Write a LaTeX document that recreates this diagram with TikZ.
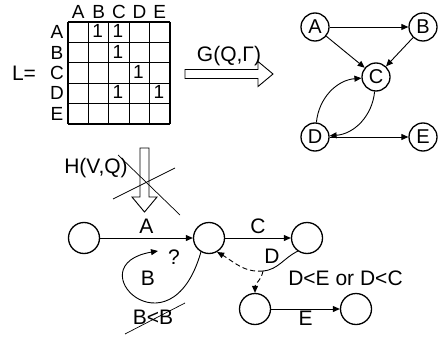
\documentclass[tikz,border=0pt]{standalone}
\usepackage{fontspec}
\setmainfont{Liberation Sans}
\usetikzlibrary{arrows.meta}

\begin{document}
\begin{tikzpicture}[x=1pt, y=-1pt,
    every node/.style={font=\fontsize{21}{23}\selectfont, inner sep=0pt},
    cell/.style={font=\fontsize{19}{21}\selectfont},
    state/.style={circle, draw, line width=1.3pt, minimum size=28pt,
      font=\fontsize{20}{22}\selectfont},
    blank/.style={circle, draw, line width=1.3pt, minimum size=31pt},
    edge/.style={line width=0.9pt, -{Triangle[length=7pt,width=6pt]}},
    fat/.style={line width=0.9pt, fill=white}]
  \useasboundingbox (0,0) rectangle (438,339);

  % matrix L
  \node (L) at (24,73) {L=};
  \foreach \i in {0,...,5} {
    \draw[line width=1.3pt] (68+20.4*\i,22) -- (68+20.4*\i,124);
    \draw[line width=1.3pt] (68,22+20.4*\i) -- (170,22+20.4*\i);
  }
  \foreach \l [count=\i from 0] in {A,B,C,D,E} {
    \node[cell] at (78.2+20.4*\i,12) {\l};
    \node[cell] at (57,32.2+20.4*\i) {\l};
  }
  \foreach \r/\c in {0/1,0/2,1/2,2/3,3/2,3/4}
    \node[cell] at (77.2+20.4*\c,31.2+20.4*\r) {1};

  % G(Q,Gamma)
  \draw[fat] (185,69.5) -- (258,69.5) -- (258,61.5) -- (273,74)
    -- (258,86.5) -- (258,78.5) -- (185,78.5) -- cycle;
  \node (g) at (229,56) {G(Q,Γ)};

  % graph
  \node[state] (a) at (315,27) {A};
  \node[state] (b) at (423,27) {B};
  \node[state] (c) at (376,77) {C};
  \node[state] (d) at (315,137) {D};
  \node[state] (e) at (423,137) {E};
  \draw[edge] (a) -- (b);
  \draw[edge] (a) -- (c);
  \draw[edge] (b) -- (c);
  \draw[edge] (d) -- (e);
  \draw[edge] (c) to[bend left=40] (d);
  \draw[edge] (d) to[bend left=40] (c);

  % H(V,Q)
  \draw[fat] (140,148) -- (149,148) -- (149,197) -- (157,197)
    -- (144.5,212) -- (132,197) -- (140,197) -- cycle;
  \node (h) at (96,168) {H(V,Q)};
  \draw[line width=0.7pt] (118,155) -- (180,215);
  \draw[line width=0.7pt] (113,199) -- (175,168);

  % states
  \node[blank] (v1) at (84,238) {};
  \node[blank] (v2) at (209,238) {};
  \node[blank] (v3) at (307,238) {};
  \node[blank] (v4) at (255,309) {};
  \node[blank] (v5) at (356,309) {};
  \coordinate (j) at (263,271);
  \coordinate (q) at (158,251);

  \draw[edge] (v1) -- node[above=4pt] {A} (v2);
  \draw[edge] (v2) -- node[above=4pt] {C} (v3);
  \draw[edge] (v4) -- node[below=2pt] {E} (v5);
  \draw[line width=0.9pt] (v3.235) to[out=205, in=5] (j);
  \draw[edge, dash pattern=on 5pt off 3pt] (j) to[out=185, in=-30] (v2.-60);
  \draw[edge, dash pattern=on 5pt off 3pt] (j) to[out=-100, in=90] (v4);
  \draw[edge] (v2.240) .. controls (170,360) and (75,265) .. (q);

  \node (dl) at (272,256) {D};
  \node (bl) at (148,278) {B};
  \node (ql) at (174,257) {?};
  \node (or) at (345.5,278) {D<E or D<C};
  \node (bb) at (153,317) {B<B};
  \draw[line width=0.7pt] (125,334) -- (185,303);
\end{tikzpicture}
\end{document}
